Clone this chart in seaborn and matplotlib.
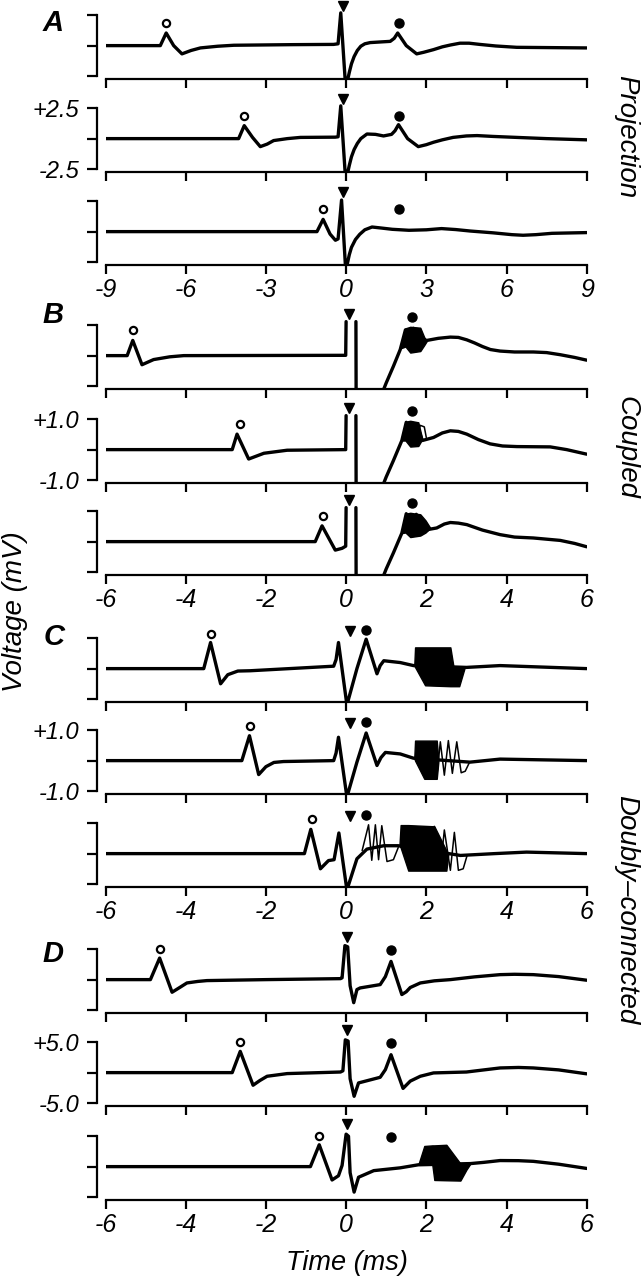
import numpy as np
import pandas as pd
import seaborn as sns
import matplotlib
matplotlib.use('Agg')
import matplotlib.pyplot as plt

sns.set_style('ticks')
plt.rcParams['font.family'] = ['Liberation Sans', 'DejaVu Sans']
for key in ['text.color', 'axes.labelcolor', 'axes.edgecolor', 'xtick.color', 'ytick.color']:
    plt.rcParams[key] = 'black'
plt.rcParams['axes.linewidth'] = 1.6

nan = np.nan

# ---------------- traces (t in ms, v in mV) ----------------
# Panel A: Projection
a1_t = [-9.0, -6.95, -6.73, -6.45, -6.14, -5.8, -5.45, -4.8, -4.2, -2.0, -0.47, -0.3, -0.2, -0.03, 0.05, 0.12,
        0.2, 0.3, 0.42, 0.55, 0.7, 0.9, 1.27, 1.65, 1.8, 1.93, 2.25, 2.64, 2.9, 3.27, 3.6, 3.9, 4.26, 4.6,
        5.0, 5.6, 6.38, 9.0]
a1_v = [0.0, 0.0, 1.04, 0.0, -0.68, -0.4, -0.19, -0.05, 0.03, 0.08, 0.1, 0.15, 2.7, -3.0, -2.9, -2.2,
        -1.5, -0.9, -0.4, -0.05, 0.15, 0.25, 0.3, 0.35, 0.6, 1.04, 0.0, -0.68, -0.55, -0.33, -0.1, 0.05, 0.2, 0.2,
        0.1, -0.03, -0.14, -0.19]
a2_t = [-9.0, -4.02, -3.81, -3.5, -3.21, -2.95, -2.71, -2.2, -1.71, -0.41, -0.3, -0.2, -0.03, 0.05, 0.12,
        0.2, 0.3, 0.42, 0.55, 0.78, 1.1, 1.4, 1.7, 1.83, 1.96, 2.3, 2.7, 3.0, 3.27, 3.6, 4.0, 4.5, 4.9, 5.5,
        6.38, 7.5, 9.0]
a2_v = [0.0, 0.0, 1.07, 0.1, -0.66, -0.45, -0.16, 0.0, 0.1, 0.12, 0.15, 2.7, -3.0, -2.9, -2.2,
        -1.5, -0.9, -0.4, 0.0, 0.38, 0.35, 0.22, 0.35, 0.65, 1.15, 0.0, -0.66, -0.5, -0.3, -0.1, 0.1, 0.22, 0.25, 0.18,
        0.1, 0.0, -0.1]
a3_t = [-9.0, -1.09, -0.86, -0.6, -0.4, -0.3, -0.17, -0.02, 0.05, 0.12, 0.2, 0.35, 0.51, 0.7, 0.97, 1.3,
        1.73, 2.35, 3.0, 3.57, 4.1, 4.64, 5.5, 6.2, 6.62, 7.1, 7.7, 9.0]
a3_v = [0.0, 0.0, 1.01, -0.2, -0.71, -0.6, 2.6, -3.0, -2.6, -1.9, -1.3, -0.65, -0.22, 0.15, 0.38, 0.3,
        0.19, 0.11, 0.15, 0.25, 0.17, 0.05, -0.1, -0.25, -0.3, -0.25, -0.14, -0.08]

# Panel B: Coupled
b1_t = [-6.0, -5.46, -5.32, -5.09, -4.8, -4.4, -4.05, -0.01, 0.0, nan, 0.245, 0.25, nan, 0.88, 1.0, 1.18,
        1.35, 1.48, 1.58, 1.68, 1.8, 2.01, 2.3, 2.6, 2.8, 3.01, 3.2, 3.4, 3.6, 3.84, 4.2, 4.67, 5.0, 5.34,
        5.7, 6.0]
b1_v = [0.0, 0.0, 0.5, -0.3, -0.13, -0.04, 0.0, 0.01, 1.12, nan, 1.12, -1.3, nan, -1.3, -0.9, -0.35,
        0.2, 0.85, 0.3, 0.9, 0.3, 0.5, 0.57, 0.61, 0.6, 0.52, 0.42, 0.3, 0.2, 0.15, 0.12, 0.12, 0.1, 0.03,
        -0.06, -0.15]
b2_t = [-6.0, -2.84, -2.72, -2.43, -2.05, -1.47, -0.01, 0.0, nan, 0.245, 0.25, nan, 0.88, 1.0, 1.18, 1.39,
        1.5, 1.62, 1.75, 1.9, 2.18, 2.4, 2.6, 2.8, 3.01, 3.3, 3.59, 3.9, 4.26, 5.09, 5.5, 6.0]
b2_v = [0.0, 0.0, 0.51, -0.31, -0.12, -0.02, 0.0, 1.12, nan, 1.12, -1.3, nan, -1.3, -0.9, -0.36, 0.3,
        0.9, 0.2, 0.85, 0.3, 0.4, 0.55, 0.62, 0.6, 0.51, 0.33, 0.19, 0.12, 0.1, 0.09, 0.0, -0.15]
b3_t = [-6.0, -0.77, -0.6, -0.27, -0.1, -0.01, 0.0, nan, 0.245, 0.25, nan, 0.88, 1.0, 1.18, 1.39, 1.5,
        1.62, 1.75, 1.9, 2.05, 2.26, 2.45, 2.6, 2.8, 3.01, 3.4, 3.84, 4.2, 4.67, 5.34, 5.7, 6.0]
b3_v = [0.0, 0.0, 0.52, -0.28, -0.22, -0.15, 1.12, nan, 1.12, -1.3, nan, -1.3, -0.9, -0.37, 0.28, 0.92,
        0.25, 0.9, 0.3, 0.4, 0.45, 0.58, 0.63, 0.61, 0.56, 0.38, 0.23, 0.15, 0.12, 0.04, -0.06, -0.17]

# Panel C: Doubly-connected
c1_t = [-6.0, -3.55, -3.38, -3.13, -2.95, -2.7, -2.39, -0.31, -0.25, -0.19, 0.02, 0.27, 0.5, 0.77, 0.85, 0.94,
        1.35, 1.68, 3.0, 3.84, 6.0]
c1_v = [0.0, 0.0, 0.86, -0.5, -0.2, -0.08, -0.07, 0.08, 0.3, 0.86, -1.2, 0.0, 0.97, -0.17, 0.1, 0.26,
        0.2, 0.1, 0.04, 0.1, 0.0]
c2_t = [-6.0, -2.6, -2.41, -2.18, -2.0, -1.8, -1.56, -0.31, -0.25, -0.19, 0.02, 0.27, 0.5, 0.77, 0.87, 0.98,
        1.35, 1.68, 3.09, 3.84, 6.0]
c2_v = [0.0, 0.0, 0.82, -0.46, -0.2, -0.06, -0.03, 0.0, 0.25, 0.77, -1.2, -0.05, 0.91, -0.16, 0.1, 0.27,
        0.22, 0.08, -0.05, 0.05, 0.0]
c3_t = [-6.0, -1.04, -0.88, -0.64, -0.44, -0.3, -0.18, 0.02, 0.27, 0.52, 0.94, 1.3, 2.85, 3.7, 4.5, 6.0]
c3_v = [0.0, 0.0, 0.8, -0.5, -0.23, -0.2, 0.68, -1.2, -0.17, 0.15, 0.26, 0.26, -0.06, 0.0, 0.05, 0.0]

# Panel D: Doubly-connected
d1_t = [-6.0, -4.88, -4.65, -4.34, -4.15, -3.97, -3.7, -3.47, -2.0, -0.14, -0.1, -0.03, 0.04, 0.1, 0.19, 0.27,
        0.35, 0.85, 0.98, 1.12, 1.39, 1.5, 1.6, 1.85, 2.2, 2.6, 3.2, 3.84, 4.2, 4.67, 5.3, 6.0]
d1_v = [0.0, 0.0, 3.55, -2.08, -1.3, -0.55, -0.3, -0.16, 0.0, 0.16, 0.3, 5.6, 5.4, -1.0, -3.8, -1.64,
        -1.37, -0.82, 0.5, 3.0, -2.46, -2.0, -1.3, -0.55, -0.2, 0.0, 0.45, 0.82, 0.88, 0.82, 0.5, -0.1]
d2_t = [-6.0, -2.84, -2.64, -2.32, -2.15, -1.97, -1.47, -0.14, -0.08, -0.02, 0.05, 0.1, 0.2, 0.31, 0.85, 0.98,
        1.12, 1.42, 1.6, 1.85, 2.18, 3.0, 3.5, 3.84, 4.3, 4.67, 5.3, 6.0]
d2_v = [0.0, 0.0, 3.5, -2.08, -1.3, -0.6, -0.16, 0.1, 0.3, 5.4, 5.2, -1.0, -3.9, -1.7, -0.77, 0.5,
        2.95, -2.6, -1.4, -0.6, -0.05, 0.1, 0.5, 0.77, 0.85, 0.77, 0.45, -0.2]
d3_t = [-6.0, -0.89, -0.67, -0.35, -0.19, -0.1, 0.0, 0.06, 0.1, 0.2, 0.31, 0.69, 1.35, 1.8, 3.1, 3.43,
        3.84, 4.3, 4.67, 5.3, 6.0]
d3_v = [0.0, 0.0, 3.6, -2.2, -1.5, 0.2, 5.35, 5.0, -1.0, -4.2, -1.75, -0.66, -0.2, 0.3, 0.5, 0.7,
        1.0, 0.98, 0.87, 0.4, -0.3]

# overlapping sweeps (dense bursts) : envelope t / upper / lower
b1_bt = [1.38, 1.48, 1.6, 1.85, 1.95, 2.02]
b1_hi = [0.25, 0.9, 0.95, 0.92, 0.6, 0.5]
b1_lo = [0.25, 0.3, 0.1, 0.15, 0.35, 0.5]
b2_bt = [1.38, 1.48, 1.6, 1.8, 1.9]
b2_hi = [0.3, 0.92, 0.95, 0.9, 0.35]
b2_lo = [0.3, 0.3, 0.1, 0.12, 0.35]
b3_bt = [1.38, 1.48, 1.6, 1.85, 1.98, 2.1]
b3_hi = [0.28, 0.92, 0.95, 0.9, 0.7, 0.45]
b3_lo = [0.28, 0.3, 0.15, 0.2, 0.3, 0.45]
c1_bt = [1.70, 1.72, 1.97, 2.6, 2.68, 2.82, 2.95]
c1_hi = [0.1, 0.7, 0.7, 0.7, 0.05, 0.05, 0.05]
c1_lo = [0.1, 0.05, -0.55, -0.58, -0.58, -0.58, 0.0]
c2_bt = [1.70, 1.72, 1.95, 2.26, 2.3]
c2_hi = [0.08, 0.66, 0.66, 0.66, 0.05]
c2_lo = [0.08, 0.0, -0.6, -0.6, -0.05]
c3_bt = [1.33, 1.36, 1.55, 2.2, 2.5, 2.55]
c3_hi = [0.26, 0.94, 0.94, 0.9, 0.1, 0.0]
c3_lo = [0.26, 0.2, -0.56, -0.56, -0.56, 0.0]
d3_bt = [1.8, 1.95, 2.15, 2.2, 2.5, 2.85, 3.0, 3.1]
d3_hi = [0.3, 3.4, 3.5, 3.5, 3.6, 0.5, 0.5, 0.5]
d3_lo = [0.3, 0.3, 0.3, -2.2, -2.25, -2.3, -0.5, 0.5]

# single sweeps that stick out of the bursts
b2_xt = [1.75, 1.85, 1.95, 2.0]
b2_xv = [0.4, 0.8, 0.75, 0.4]
c2_xt = [2.26, 2.35, 2.45, 2.55, 2.65, 2.76, 2.87, 2.97, 3.08]
c2_xv = [-0.55, 0.62, -0.48, 0.66, -0.42, 0.62, -0.4, -0.35, -0.05]
c3_xt = [0.4, 0.56, 0.64, 0.73, 0.81, 0.89, 1.02, 1.18, 1.3]
c3_xv = [0.1, 0.95, -0.22, 0.95, -0.2, 0.92, -0.26, -0.2, 0.2]
c3_yt = [2.2, 2.35, 2.45, 2.6, 2.7, 2.8, 2.92, 3.02]
c3_yv = [0.9, -0.5, 0.78, -0.55, 0.7, -0.55, -0.5, -0.05]

# markers: open circle (one per row), stimulus arrowhead, filled circle
a_open_t = [-6.73, -3.81, -0.86]
b_open_t = [-5.32, -2.65, -0.58]
c_open_t = [-3.36, -2.39, -0.85]
d_open_t = [-4.63, -2.64, -0.67]
a_mark_v = [1.86, 3.3, 1.86]
b_mark_v = [0.85, 1.36, 1.28]
c_mark_v = [1.15, 1.25, 1.27]
d_mark_v = [5.0, 7.0, 4.8]
a_stim_t, b_stim_t, c_stim_t, d_stim_t = -0.13, 0.08, 0.09, 0.02
a_fill_t, b_fill_t, c_fill_t, d_fill_t = 1.97, 1.64, 0.5, 1.12

# time ticks
a_xticks = [-9, -6, -3, 0, 3, 6, 9]
bcd_xticks = [-6, -4, -2, 0, 2, 4, 6]

panels = [
    dict(letter='A', V=2.5, ticks=a_xticks,
         rows=[(a1_t, a1_v), (a2_t, a2_v), (a3_t, a3_v)],
         bursts=[[], [], []], extra=[[], [], []],
         open_t=a_open_t, mark_v=a_mark_v, stim_t=a_stim_t, fill_t=a_fill_t),
    dict(letter='B', V=1.0, ticks=bcd_xticks,
         rows=[(b1_t, b1_v), (b2_t, b2_v), (b3_t, b3_v)],
         bursts=[[(b1_bt, b1_hi, b1_lo)], [(b2_bt, b2_hi, b2_lo)], [(b3_bt, b3_hi, b3_lo)]],
         extra=[[], [(b2_xt, b2_xv)], []],
         open_t=b_open_t, mark_v=b_mark_v, stim_t=b_stim_t, fill_t=b_fill_t),
    dict(letter='C', V=1.0, ticks=bcd_xticks,
         rows=[(c1_t, c1_v), (c2_t, c2_v), (c3_t, c3_v)],
         bursts=[[(c1_bt, c1_hi, c1_lo)], [(c2_bt, c2_hi, c2_lo)], [(c3_bt, c3_hi, c3_lo)]],
         extra=[[], [(c2_xt, c2_xv)], [(c3_xt, c3_xv), (c3_yt, c3_yv)]],
         open_t=c_open_t, mark_v=c_mark_v, stim_t=c_stim_t, fill_t=c_fill_t),
    dict(letter='D', V=5.0, ticks=bcd_xticks,
         rows=[(d1_t, d1_v), (d2_t, d2_v), (d3_t, d3_v)],
         bursts=[[], [], [(d3_bt, d3_hi, d3_lo)]], extra=[[], [], []],
         open_t=d_open_t, mark_v=d_mark_v, stim_t=d_stim_t, fill_t=d_fill_t),
]

# layout in pixels (figure is 641 x 1280)
W, H = 641, 1280
ax_left, ax_right = 105.5, 586.7
row_bottoms = [[79, 172, 265], [389, 483, 575], [702, 794, 887], [1013, 1106, 1200]]
row_height = 88
letter_pos = [(53, 23), (53, 315), (54, 637), (53, 954)]


def draw_trace(ax, t, v, lw):
    df = pd.DataFrame({'t': t, 'v': v})
    df['seg'] = df['v'].isna().cumsum()
    df = df.dropna()
    sns.lineplot(data=df, x='t', y='v', units='seg', estimator=None, sort=False,
                 color='black', linewidth=lw, ax=ax, legend=False)


fig = plt.figure(figsize=(W / 100, H / 100), dpi=100)

for p, panel in enumerate(panels):
    V = panel['V']
    ticks = panel['ticks']
    for r in range(3):
        yb = row_bottoms[p][r]
        ax = fig.add_axes([ax_left / W, 1 - yb / H, (ax_right - ax_left) / W, row_height / H])
        ax.patch.set_alpha(0)
        t, v = panel['rows'][r]
        draw_trace(ax, t, v, 2.4)
        for bt, hi, lo in panel['bursts'][r]:
            ax.fill_between(bt, lo, hi, color='black', linewidth=1.0)
        for xt, xv in panel['extra'][r]:
            draw_trace(ax, xt, xv, 1.1)

        mv = panel['mark_v']
        ax.plot([panel['open_t'][r]], [mv[0]], 'o', mfc='white', mec='black', ms=5.2, mew=1.6, clip_on=False)
        ax.plot([panel['stim_t']], [mv[1]], 'v', color='black', ms=6.5, clip_on=False)
        ax.plot([panel['fill_t']], [mv[2]], 'o', color='black', ms=6.5, clip_on=False)

        ax.set_xlim(ticks[0], ticks[-1])
        ax.set_ylim(-1.1 * V, 1.8 * V)
        ax.set_xlabel('')
        ax.set_ylabel('')

        sns.despine(ax=ax)
        ax.spines['left'].set_position(('outward', 5.8))
        ax.spines['left'].set_bounds(-V, V)
        ax.spines['left'].set_linewidth(1.6)
        ax.spines['bottom'].set_linewidth(1.6)

        ax.set_xticks(ticks)
        ax.set_yticks([-V, 0, V])
        if r == 2:
            ax.set_xticklabels([str(x) for x in ticks], fontsize=18, style='italic')
        else:
            ax.set_xticklabels([])
        if r == 1:
            ax.set_yticklabels([f'{-V:.1f}', '', f'+{V:.1f}'], fontsize=17, style='italic')
        else:
            ax.set_yticklabels([])
        ax.tick_params(axis='x', direction='out', length=6.5, width=1.6, pad=3)
        ax.tick_params(axis='y', direction='out', length=7.2, width=1.6, pad=6)

    lx, ly = letter_pos[p]
    fig.text(lx / W, 1 - ly / H, panel['letter'], ha='center', va='center',
             fontsize=21, fontweight='bold', style='italic')

fig.text(15 / W, 1 - 612 / H, 'Voltage (mV)', rotation=90, ha='center', va='center',
         fontsize=20, style='italic')
fig.text(347 / W, 1 - 1263 / H, 'Time (ms)', ha='center', va='center', fontsize=19.5, style='italic')
fig.text(626 / W, 1 - 137 / H, 'Projection', rotation=270, ha='center', va='center',
         fontsize=20, style='italic')
fig.text(626 / W, 1 - 447 / H, 'Coupled', rotation=270, ha='center', va='center',
         fontsize=20, style='italic')
fig.text(626 / W, 1 - 910 / H, 'Doubly\u2013connected', rotation=270, ha='center', va='center',
         fontsize=20, style='italic')

fig.savefig('out.png', dpi=100)
